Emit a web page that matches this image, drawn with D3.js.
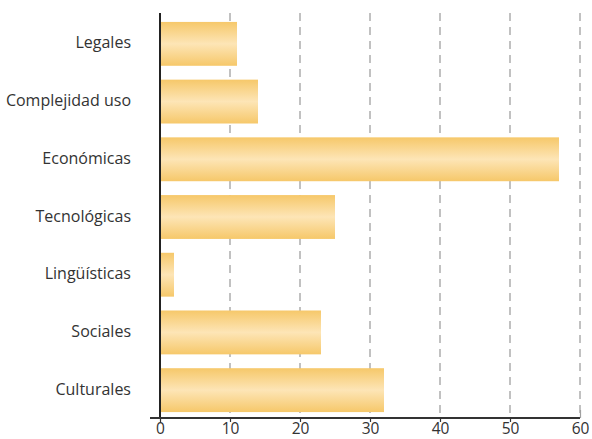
<!DOCTYPE html>
<html>
<head>
<meta charset="utf-8">
<script src="https://cdn.jsdelivr.net/npm/d3@7"></script>
<style>
  html, body { margin: 0; padding: 0; background: #fff; }
  svg { display: block; }
  text { font-family: "Open Sans", "DejaVu Sans", sans-serif; fill: #333; }
</style>
</head>
<body>
<svg id="chart" width="592" height="439"></svg>
<script>
// Barriers by category (percentage)
const categories = ["Legales", "Complejidad uso", "Económicas", "Tecnológicas", "Lingüísticas", "Sociales", "Culturales"];
const values = [11, 14, 57, 25, 2, 23, 32];
const xTicks = [0, 10, 20, 30, 40, 50, 60];

const svg = d3.select("#chart");
const x0 = 160, x1 = 580, yTop = 13, yAxis = 418;

const x = d3.scaleLinear().domain([0, 60]).range([x0, x1]);
const y = d3.scaleBand().domain(categories).range([15, 419]).paddingInner(0.24).paddingOuter(0.12);

// Bar gradient: warm amber edges, pale centre
const defs = svg.append("defs");
const grad = defs.append("linearGradient").attr("id", "barGrad")
  .attr("x1", 0).attr("y1", 0).attr("x2", 0).attr("y2", 1);
grad.append("stop").attr("offset", "0%").attr("stop-color", "#f6c86a");
grad.append("stop").attr("offset", "50%").attr("stop-color", "#fde5b6");
grad.append("stop").attr("offset", "100%").attr("stop-color", "#f6c86a");

// Dashed vertical grid lines
svg.append("g").selectAll("line")
  .data(xTicks.filter(d => d > 0))
  .join("line")
  .attr("x1", d => x(d)).attr("x2", d => x(d))
  .attr("y1", yTop).attr("y2", yAxis)
  .attr("stroke", "#a0a0a0").attr("stroke-width", 1.3)
  .attr("stroke-dasharray", "8,6");

// Bars
svg.append("g").selectAll("rect")
  .data(categories)
  .join("rect")
  .attr("x", x(0))
  .attr("y", d => y(d))
  .attr("width", (d, i) => x(values[i]) - x(0))
  .attr("height", y.bandwidth())
  .attr("fill", "url(#barGrad)");

// Vertical axis line
svg.append("line")
  .attr("x1", x0).attr("x2", x0).attr("y1", yTop).attr("y2", yAxis)
  .attr("stroke", "#222").attr("stroke-width", 2);

// Category labels
svg.append("g").selectAll("text")
  .data(categories)
  .join("text")
  .attr("x", 131)
  .attr("y", d => y(d) + y.bandwidth() / 2 - 1)
  .attr("dy", "0.35em")
  .attr("text-anchor", "end")
  .attr("font-size", 16)
  .text(d => d);

// Horizontal axis
const xAxis = d3.axisBottom(x).tickValues(xTicks).tickSize(4).tickSizeOuter(0).tickPadding(1);
const gx = svg.append("g").attr("transform", `translate(0,${yAxis})`).call(xAxis);
gx.select(".domain").remove();
gx.selectAll(".tick line").attr("stroke", "#333").attr("stroke-width", 1.2);
gx.selectAll(".tick text").attr("font-size", 15.5).attr("fill", "#333")
  .style("font-family", "'Open Sans', 'DejaVu Sans', sans-serif");
gx.insert("line", ":first-child")
  .attr("x1", 150).attr("x2", x1).attr("y1", 0).attr("y2", 0)
  .attr("stroke", "#333").attr("stroke-width", 2);
gx.selectAll(".tick").filter(d => d === 60).select("line")
  .attr("y1", -8).attr("y2", 0).attr("stroke", "#a0a0a0");
</script>
</body>
</html>
